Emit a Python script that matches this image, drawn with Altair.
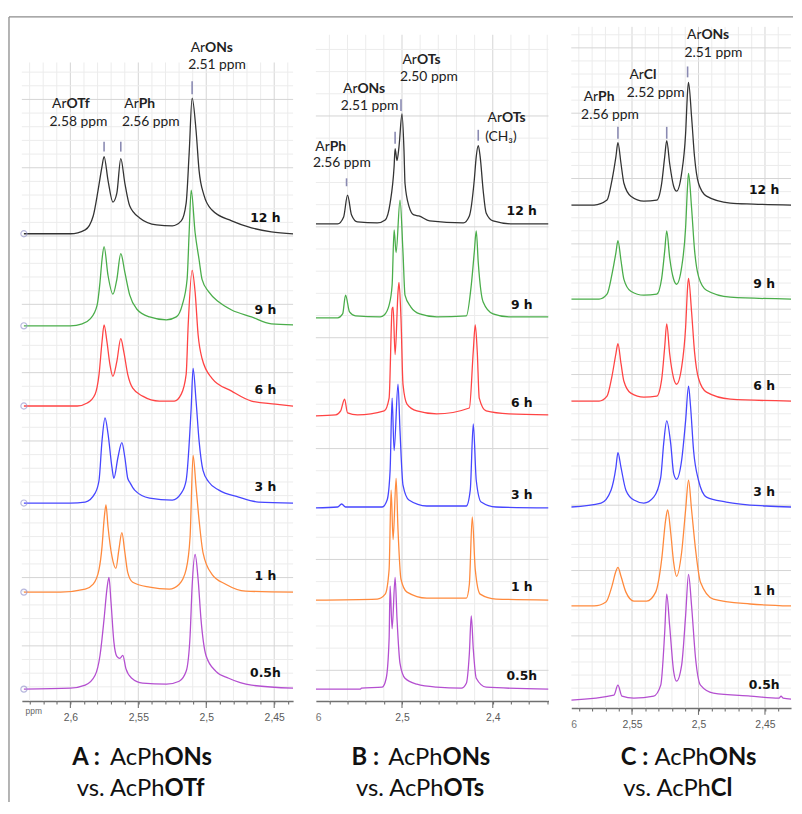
import altair as alt
import pandas as pd

TIMES = ["12 h", "9 h", "6 h", "3 h", "1 h", "0.5h"]
COLORS = ["#333333", "#4aad4a", "#ff4444", "#4646ff", "#ff8a3d", "#b44fd0"]

TXT_FONT = "Lato, 'Open Sans', sans-serif"
AX_FONT = "'Liberation Sans Narrow', 'Liberation Sans', sans-serif"
TIME_FONT = "'DejaVu Sans', sans-serif"

# ---------------- Panel A : AcPhONs vs AcPhOTf ----------------
A_OFFSETS = [472, 379, 298, 200, 110, 12]
A_12H_PPM = [2.6342, 2.6000, 2.5891, 2.5832, 2.5796, 2.5767, 2.5752, 2.5723, 2.5687, 2.5658, 2.5629, 2.5599, 2.5563, 2.5490, 2.5366, 2.5250, 2.5184, 2.5148, 2.5126, 2.5104, 2.5075, 2.5053, 2.5017, 2.4958, 2.4813, 2.4667, 2.4521, 2.4361]
A_12H_INT = [0, 0, 4, 18, 44, 68, 78, 54, 32, 41, 76, 51, 28, 16, 9, 8, 13, 31, 81, 137, 104, 64, 39, 24, 13, 6, 2, 0]
A_9H_PPM = [2.6342, 2.6000, 2.5913, 2.5854, 2.5803, 2.5782, 2.5767, 2.5752, 2.5723, 2.5687, 2.5658, 2.5629, 2.5599, 2.5563, 2.5512, 2.5417, 2.5293, 2.5221, 2.5177, 2.5141, 2.5126, 2.5111, 2.5082, 2.5053, 2.5031, 2.4980, 2.4907, 2.4813, 2.4667, 2.4521, 2.4361]
A_9H_INT = [0, 0, 2, 7, 21, 44, 67, 80, 51, 32, 47, 73, 54, 31, 17, 9, 6, 9, 21, 47, 94, 137, 94, 67, 47, 34, 24, 16, 9, 2, 1]
A_6H_PPM = [2.6342, 2.5949, 2.5876, 2.5818, 2.5789, 2.5767, 2.5752, 2.5731, 2.5709, 2.5687, 2.5658, 2.5629, 2.5607, 2.5578, 2.5541, 2.5468, 2.5345, 2.5235, 2.5184, 2.5148, 2.5133, 2.5104, 2.5082, 2.5060, 2.5031, 2.4958, 2.4813, 2.4667, 2.4492, 2.4361]
A_6H_INT = [0, 0, 3, 12, 32, 65, 82, 65, 42, 30, 45, 68, 55, 32, 18, 10, 5, 5, 12, 32, 82, 137, 115, 72, 48, 28, 15, 5, 2, 0]
A_3H_PPM = [2.6342, 2.6000, 2.5891, 2.5818, 2.5789, 2.5767, 2.5745, 2.5723, 2.5694, 2.5680, 2.5650, 2.5621, 2.5599, 2.5578, 2.5563, 2.5527, 2.5417, 2.5250, 2.5184, 2.5148, 2.5111, 2.5097, 2.5075, 2.5053, 2.5024, 2.4980, 2.4907, 2.4762, 2.4616, 2.4361]
A_3H_INT = [0, 0, 1, 10, 23, 63, 86, 70, 36, 25, 46, 61, 46, 25, 21, 13, 5, 3, 10, 23, 96, 136, 103, 63, 33, 21, 13, 6, 1, 0]
A_1H_PPM = [2.6342, 2.6073, 2.5891, 2.5832, 2.5789, 2.5767, 2.5752, 2.5738, 2.5723, 2.5694, 2.5665, 2.5643, 2.5621, 2.5599, 2.5578, 2.5541, 2.5417, 2.5272, 2.5199, 2.5148, 2.5119, 2.5097, 2.5075, 2.5053, 2.5024, 2.4958, 2.4857, 2.4711, 2.4361]
A_1H_INT = [0, 0, 3, 8, 23, 46, 73, 88, 66, 36, 24, 43, 60, 40, 20, 10, 5, 3, 8, 23, 56, 138, 106, 73, 40, 18, 8, 1, 0]
A_05H_PPM = [2.6342, 2.6000, 2.5891, 2.5818, 2.5782, 2.5752, 2.5731, 2.5716, 2.5701, 2.5680, 2.5658, 2.5636, 2.5614, 2.5592, 2.5548, 2.5468, 2.5293, 2.5199, 2.5148, 2.5119, 2.5104, 2.5082, 2.5060, 2.5039, 2.5002, 2.4929, 2.4835, 2.4667, 2.4361]
A_05H_INT = [0, 1, 4, 14, 34, 71, 101, 113, 88, 48, 33, 31, 34, 21, 11, 6, 5, 8, 18, 54, 104, 136, 111, 71, 34, 18, 11, 4, 1]
A_MARK_PPM = [2.5752, 2.5629, 2.5104]
A_MARK_LOW = [555, 555, 613]
A_MARK_HIGH = [565, 565, 626]
A_ANN_BOLD = ["OTf", "Ph", "ONs"]
A_ANN_SPLIT = [2.6029, 2.5497, 2.5009]
A_ANN_Y = [603, 603, 660]
A_ANN_SUB = ["2.58 ppm", "2.56 ppm", "2.51 ppm"]
A_ANN_LEFT = [2.6153, 2.5621, 2.5133]
A_ANN_SUB_Y = [585, 585, 642]
A_TITLE = ["A :", "AcPh", "ONs", "vs. AcPh", "OTf"]

# ---------------- Panel B : AcPhONs vs AcPhOTs ----------------
B_OFFSETS = [482, 387, 288, 195, 102, 12]
B_12H_PPM = [2.5949, 2.5709, 2.5643, 2.5600, 2.5556, 2.5491, 2.5273, 2.5185, 2.5131, 2.5087, 2.5076, 2.5055, 2.5033, 2.5000, 2.4978, 2.4967, 2.4924, 2.4869, 2.4815, 2.4695, 2.4324, 2.4258, 2.4204, 2.4182, 2.4160, 2.4139, 2.4106, 2.4073, 2.3997, 2.3779, 2.3386]
B_12H_INT = [0, 0, 7, 29, 9, 2, 1, 4, 21, 58, 76, 64, 78, 111, 74, 41, 18, 9, 8, 3, 1, 8, 44, 68, 79, 68, 34, 11, 3, 0, 0]
B_9H_PPM = [2.5949, 2.5709, 2.5654, 2.5622, 2.5578, 2.5513, 2.5240, 2.5196, 2.5142, 2.5109, 2.5087, 2.5065, 2.5022, 2.4989, 2.4967, 2.4902, 2.4804, 2.4618, 2.4291, 2.4237, 2.4204, 2.4182, 2.4160, 2.4106, 2.3997, 2.3822, 2.3386]
B_9H_INT = [0, 0, 4, 23, 6, 2, 1, 3, 13, 33, 89, 66, 119, 66, 23, 11, 4, 1, 2, 33, 66, 88, 56, 16, 4, 1, 1]
B_6H_PPM = [2.5949, 2.5731, 2.5676, 2.5633, 2.5600, 2.5491, 2.5196, 2.5142, 2.5109, 2.5098, 2.5076, 2.5044, 2.5033, 2.5011, 2.4989, 2.4945, 2.4836, 2.4618, 2.4258, 2.4215, 2.4193, 2.4171, 2.4149, 2.4073, 2.3822, 2.3386]
B_6H_INT = [0, 1, 5, 17, 3, 1, 5, 18, 108, 110, 62, 125, 135, 98, 32, 12, 5, 2, 8, 65, 92, 65, 18, 5, 2, 1]
B_3H_PPM = [2.5949, 2.5709, 2.5665, 2.5622, 2.5218, 2.5164, 2.5131, 2.5109, 2.5087, 2.5044, 2.5022, 2.4989, 2.4924, 2.4727, 2.4291, 2.4248, 2.4215, 2.4182, 2.4128, 2.3964, 2.3386]
B_3H_INT = [0, 1, 4, 1, 1, 8, 38, 111, 58, 125, 78, 23, 8, 2, 2, 18, 85, 28, 6, 1, 0]
B_1H_PPM = [2.5949, 2.5273, 2.5185, 2.5142, 2.5120, 2.5098, 2.5065, 2.5044, 2.5011, 2.4945, 2.4727, 2.4291, 2.4258, 2.4226, 2.4193, 2.4139, 2.3964, 2.3386]
B_1H_INT = [0, 1, 6, 31, 111, 61, 123, 71, 21, 8, 2, 2, 16, 84, 31, 6, 1, 0]
B_05H_PPM = [2.5949, 2.5458, 2.5447, 2.5218, 2.5174, 2.5142, 2.5131, 2.5109, 2.5076, 2.5055, 2.5022, 2.4967, 2.4836, 2.4618, 2.4346, 2.4291, 2.4258, 2.4237, 2.4215, 2.4182, 2.4073, 2.3386]
B_05H_INT = [0, 0, 1, 2, 11, 51, 104, 61, 113, 71, 26, 11, 5, 2, 1, 6, 36, 74, 41, 11, 2, 0]
B_MARK_PPM = [2.5611, 2.5076, 2.5011, 2.4160]
B_MARK_LOW = [520, 563, 596, 566]
B_MARK_HIGH = [528, 575, 608, 577]
B_ANN_BOLD = ["Ph", "ONs", "OTs", "OTs"]
B_ANN_SPLIT = [2.5796, 2.5491, 2.4836, 2.3899]
B_ANN_Y = [560, 618, 648, 589]
B_ANN_SUB = ["2.56 ppm", "2.51 ppm", "2.50 ppm", "(CH\u2083)"]
B_ANN_LEFT = [2.5981, 2.5676, 2.5022, 2.4084]
B_ANN_SUB_Y = [543, 601, 630, 570]
B_TITLE = ["B :", "AcPh", "ONs", "vs. AcPh", "OTs"]

# ---------------- Panel C : AcPhONs vs AcPhCl ----------------
C_OFFSETS = [508, 413, 310, 203, 103, 8]
C_12H_PPM = [2.5957, 2.5785, 2.5688, 2.5651, 2.5621, 2.5606, 2.5583, 2.5561, 2.5509, 2.5411, 2.5314, 2.5277, 2.5254, 2.5239, 2.5217, 2.5187, 2.5165, 2.5127, 2.5097, 2.5082, 2.5075, 2.5052, 2.5030, 2.5000, 2.4940, 2.4761, 2.4589, 2.4304]
C_12H_INT = [0, 0, 5, 25, 49, 63, 42, 22, 9, 4, 5, 22, 49, 65, 42, 19, 14, 32, 72, 115, 124, 89, 49, 22, 9, 2, 1, 0]
C_9H_PPM = [2.5957, 2.5748, 2.5688, 2.5651, 2.5621, 2.5606, 2.5583, 2.5561, 2.5509, 2.5411, 2.5314, 2.5277, 2.5254, 2.5239, 2.5217, 2.5187, 2.5165, 2.5127, 2.5097, 2.5082, 2.5075, 2.5052, 2.5030, 2.5000, 2.4940, 2.4761, 2.4304]
C_9H_INT = [0, 0, 5, 25, 47, 59, 39, 20, 8, 4, 5, 21, 49, 69, 42, 20, 15, 32, 72, 115, 127, 92, 50, 23, 9, 2, 0]
C_6H_PPM = [2.5957, 2.5748, 2.5688, 2.5651, 2.5621, 2.5606, 2.5583, 2.5561, 2.5509, 2.5411, 2.5314, 2.5277, 2.5254, 2.5239, 2.5217, 2.5187, 2.5165, 2.5127, 2.5097, 2.5082, 2.5075, 2.5052, 2.5030, 2.5000, 2.4940, 2.4761, 2.4304]
C_6H_INT = [0, 0, 5, 25, 48, 58, 38, 20, 8, 4, 5, 22, 55, 78, 48, 23, 17, 34, 74, 115, 124, 90, 50, 23, 9, 2, 0]
C_3H_PPM = [2.5957, 2.5733, 2.5658, 2.5621, 2.5606, 2.5583, 2.5546, 2.5486, 2.5411, 2.5337, 2.5284, 2.5262, 2.5239, 2.5209, 2.5187, 2.5165, 2.5127, 2.5097, 2.5075, 2.5060, 2.5037, 2.5000, 2.4940, 2.4791, 2.4491, 2.4304]
C_3H_INT = [0, 4, 17, 40, 55, 40, 17, 7, 4, 10, 30, 64, 87, 64, 34, 28, 47, 87, 122, 102, 57, 27, 10, 5, 1, 0]
C_1H_PPM = [2.5957, 2.5785, 2.5696, 2.5651, 2.5621, 2.5606, 2.5583, 2.5546, 2.5486, 2.5389, 2.5322, 2.5277, 2.5247, 2.5232, 2.5209, 2.5187, 2.5165, 2.5127, 2.5097, 2.5075, 2.5052, 2.5022, 2.4985, 2.4888, 2.4611, 2.4304]
C_1H_INT = [0, 0, 4, 20, 35, 39, 30, 14, 5, 5, 14, 47, 87, 97, 74, 44, 30, 54, 97, 127, 97, 57, 24, 7, 2, 0]
C_05H_PPM = [2.5957, 2.5636, 2.5606, 2.5576, 2.5486, 2.5337, 2.5284, 2.5254, 2.5239, 2.5217, 2.5187, 2.5165, 2.5127, 2.5097, 2.5075, 2.5052, 2.5022, 2.4985, 2.4888, 2.4611, 2.4394, 2.4379, 2.4364, 2.4304]
C_05H_INT = [0, 5, 15, 4, 2, 4, 15, 69, 107, 75, 29, 19, 35, 85, 127, 95, 42, 15, 7, 4, 2, 4, 2, 1]
C_MARK_PPM = [2.5606, 2.5239, 2.5082]
C_MARK_LOW = [575, 575, 637]
C_MARK_HIGH = [587, 587, 648]
C_ANN_BOLD = ["Ph", "Cl", "ONs"]
C_ANN_SPLIT = [2.5755, 2.5411, 2.4978]
C_ANN_Y = [617, 639, 680]
C_ANN_SUB = ["2.56 ppm", "2.52 ppm", "2.51 ppm"]
C_ANN_LEFT = [2.5883, 2.5539, 2.5105]
C_ANN_SUB_Y = [599, 621, 662]
C_TITLE = ["C :", "AcPh", "ONs", "vs. AcPh", "Cl"]


def one_row():
    return pd.DataFrame({"k": [0]})


def make_panel(c):
    W, H = c["width"], c["height"]
    xs = alt.Scale(domain=c["domain"], nice=False, zero=False)
    ys = alt.Scale(domain=[0, H], nice=False, zero=False)
    test = " || ".join("abs(datum.value - %s) < 0.0001" % m for m in c["major"])
    xaxis = alt.Axis(values=c["ticks"], title=None, grid=False,
                     domainColor="#707070", domainWidth=1.6,
                     tickColor="#707070", tickWidth=1.1, tickSize=3,
                     labelExpr="(%s) ? replace(format(datum.value, '.2~f'), '.', ',') : ''" % test,
                     labelFont=AX_FONT, labelFontSize=10.5, labelColor="#5a5a5a",
                     labelPadding=9, labelOverlap=False, labelFlush=False, labelBound=False)

    def X(f):
        return alt.X(f, scale=xs, axis=xaxis)

    def Y(f):
        return alt.Y(f, scale=ys, axis=None)

    layers = []
    minor = [v for v in c["ticks"] if all(abs(v - m) > 1e-4 for m in c["major"])]
    for vals, col in ((minor, "#ececec"), (c["major"], "#d4d4d4")):
        layers.append(alt.Chart(pd.DataFrame({"v": vals})).mark_rule(color=col, strokeWidth=1).encode(
            x=X("v:Q"), y=alt.YDatum(c["grid_top"], scale=ys, axis=None), y2=alt.Y2Datum(0)))
    hmin = [h for i, h in enumerate(c["hgrid"]) if i % 5 != c["hphase"]]
    hmaj = [h for i, h in enumerate(c["hgrid"]) if i % 5 == c["hphase"]]
    for vals, col in ((hmin, "#ececec"), (hmaj, "#d4d4d4")):
        layers.append(alt.Chart(pd.DataFrame({"h": vals})).mark_rule(color=col, strokeWidth=1).encode(
            y=Y("h:Q")))

    rows = []
    for t, off, ppm, inten in zip(TIMES, c["offsets"], c["ppms"], c["ints"]):
        for p, v in zip(ppm, inten):
            rows.append({"t": t, "ppm": p, "y": off + v})
    df = pd.DataFrame(rows)
    layers.append(alt.Chart(df).mark_line(strokeWidth=1.3, clip=True, interpolate="monotone").encode(
        x=X("ppm:Q"), y=Y("y:Q"),
        color=alt.Color("t:N", scale=alt.Scale(domain=TIMES, range=COLORS), legend=None)))

    if c.get("circles"):
        cdf = pd.DataFrame({"ppm": [c["domain"][0] - 0.0015] * 6, "y": c["offsets"]})
        layers.append(alt.Chart(cdf).mark_point(shape="circle", size=38, filled=False,
                                                color="#9a9ad0", strokeWidth=1.2).encode(
            x=X("ppm:Q"), y=Y("y:Q")))

    mdf = pd.DataFrame({"ppm": c["mark_ppm"], "lo": c["mark_low"], "hi": c["mark_high"]})
    layers.append(alt.Chart(mdf).mark_rule(color="#8a8ab2", strokeWidth=1.6).encode(
        x=X("ppm:Q"), y=Y("lo:Q"), y2="hi:Q"))

    adf = pd.DataFrame({"ppm": c["ann_split"], "y": c["ann_y"], "b": c["ann_bold"],
                        "l": c["ann_left"], "s": c["ann_sub"], "sy": c["ann_sub_y"]})
    layers.append(alt.Chart(adf).mark_text(text="Ar", align="right", baseline="middle", font=TXT_FONT,
                                           fontSize=14, color="#222").encode(x=X("ppm:Q"), y=Y("y:Q")))
    layers.append(alt.Chart(adf).mark_text(align="left", baseline="middle", font=TXT_FONT,
                                           fontSize=14, fontWeight="bold", color="#222").encode(
        x=X("ppm:Q"), y=Y("y:Q"), text="b:N"))
    layers.append(alt.Chart(adf).mark_text(align="left", baseline="middle", font=TXT_FONT,
                                           fontSize=14, color="#222").encode(
        x=X("l:Q"), y=Y("sy:Q"), text="s:N"))

    ldf = pd.DataFrame({"t": TIMES, "ppm": [c["label_ppm"]] * 6,
                        "y": [o + c["lift"] for o in c["offsets"]]})
    layers.append(alt.Chart(ldf).mark_text(font=TIME_FONT, fontWeight="bold", fontSize=12.5,
                                           color="#111", align="center", baseline="middle").encode(
        x=X("ppm:Q"), y=Y("y:Q"), text="t:N"))

    layers.append(alt.Chart(pd.DataFrame({"v": c["major"]})).mark_rule(color="#707070", strokeWidth=1.1).encode(
        x=X("v:Q"), y=alt.value(H), y2=alt.value(H + 7)))

    tl, s1, s2 = c["title_pos"]
    tt = c["title"]
    for txt, xx, yy, al, wt in ((tt[0], tl, 739, "left", "bold"), (tt[1], s1, 739, "right", "normal"),
                                (tt[2], s1, 739, "left", "bold"), (tt[3], s2, 770, "right", "normal"),
                                (tt[4], s2, 770, "left", "bold")):
        layers.append(alt.Chart(one_row()).mark_text(text=txt, align=al, baseline="middle", font=TXT_FONT,
                                                     fontSize=24, fontWeight=wt, color="#111").encode(
            x=alt.value(xx), y=alt.value(yy)))

    if c.get("frame"):
        layers.append(alt.Chart(one_row()).mark_rule(color="#8c8c8c", strokeWidth=1.3).encode(
            x=alt.value(-13), x2=alt.value(779), y=alt.value(-10)))
        layers.append(alt.Chart(one_row()).mark_rule(color="#8c8c8c", strokeWidth=1.3).encode(
            x=alt.value(-13), y=alt.value(-10), y2=alt.value(783)))
        layers.append(alt.Chart(one_row()).mark_text(text="ppm", font=AX_FONT, fontSize=8.5, color="#666",
                                                     align="center", baseline="middle").encode(
            x=alt.value(12), y=alt.value(H + 10)))
    if c.get("partial"):
        layers.append(alt.Chart(one_row()).mark_text(text="6", font=AX_FONT, fontSize=10.5, color="#777",
                                                     align="left", baseline="middle").encode(
            x=alt.value(0), y=alt.value(H + 17)))

    return alt.layer(*layers).properties(width=W, height=H)


def ticks(lo, hi, step):
    n = int(round((hi - lo) / step))
    return [round(lo + step * i, 2) for i in range(n + 1)]


panel_a = make_panel({
    "width": 274, "height": 681, "domain": [2.6357, 2.4361], "grid_top": 645,
    "ticks": ticks(2.44, 2.63, 0.01), "major": [2.45, 2.5, 2.55, 2.6],
    "hgrid": [0.5 + 13.8 * k for k in range(1, 47)], "hphase": 3,
    "offsets": A_OFFSETS,
    "ppms": [A_12H_PPM, A_9H_PPM, A_6H_PPM, A_3H_PPM, A_1H_PPM, A_05H_PPM],
    "ints": [A_12H_INT, A_9H_INT, A_6H_INT, A_3H_INT, A_1H_INT, A_05H_INT],
    "mark_ppm": A_MARK_PPM, "mark_low": A_MARK_LOW, "mark_high": A_MARK_HIGH,
    "ann_split": A_ANN_SPLIT, "ann_y": A_ANN_Y, "ann_bold": A_ANN_BOLD,
    "ann_left": A_ANN_LEFT, "ann_sub": A_ANN_SUB, "ann_sub_y": A_ANN_SUB_Y,
    "label_ppm": 2.4565, "lift": 16, "title": A_TITLE, "title_pos": (51, 144, 144),
    "circles": True, "frame": True,
})
panel_b = make_panel({
    "width": 235, "height": 681, "domain": [2.5949, 2.3386], "grid_top": 673,
    "ticks": ticks(2.34, 2.58, 0.02), "major": [2.4, 2.5],
    "hgrid": [31 + 22.4 * k for k in range(0, 29)], "hphase": 0,
    "offsets": B_OFFSETS,
    "ppms": [B_12H_PPM, B_9H_PPM, B_6H_PPM, B_3H_PPM, B_1H_PPM, B_05H_PPM],
    "ints": [B_12H_INT, B_9H_INT, B_6H_INT, B_3H_INT, B_1H_INT, B_05H_INT],
    "mark_ppm": B_MARK_PPM, "mark_low": B_MARK_LOW, "mark_high": B_MARK_HIGH,
    "ann_split": B_ANN_SPLIT, "ann_y": B_ANN_Y, "ann_bold": B_ANN_BOLD,
    "ann_left": B_ANN_LEFT, "ann_sub": B_ANN_SUB, "ann_sub_y": B_ANN_SUB_Y,
    "label_ppm": 2.3681, "lift": 13, "title": B_TITLE, "title_pos": (36, 128, 129),
    "partial": True,
})
panel_c = make_panel({
    "width": 222, "height": 688, "domain": [2.5957, 2.4304], "grid_top": 688,
    "ticks": ticks(2.44, 2.59, 0.01), "major": [2.45, 2.5, 2.55],
    "hgrid": [20 + 13.2 * k for k in range(0, 51)], "hphase": 4,
    "offsets": C_OFFSETS,
    "ppms": [C_12H_PPM, C_9H_PPM, C_6H_PPM, C_3H_PPM, C_1H_PPM, C_05H_PPM],
    "ints": [C_12H_INT, C_9H_INT, C_6H_INT, C_3H_INT, C_1H_INT, C_05H_INT],
    "mark_ppm": C_MARK_PPM, "mark_low": C_MARK_LOW, "mark_high": C_MARK_HIGH,
    "ann_split": C_ANN_SPLIT, "ann_y": C_ANN_Y, "ann_bold": C_ANN_BOLD,
    "ann_left": C_ANN_LEFT, "ann_sub": C_ANN_SUB, "ann_sub_y": C_ANN_SUB_Y,
    "label_ppm": 2.4506, "lift": 15, "title": C_TITLE, "title_pos": (50, 139, 141),
    "partial": True,
})

chart = alt.hconcat(panel_a, panel_b, panel_c, spacing=23, bounds="flush").properties(
    padding={"left": 0, "top": 4, "right": 0, "bottom": 0}
).configure_view(strokeWidth=0)

chart.save("out.html", embed_options={"renderer": "svg", "actions": False})
